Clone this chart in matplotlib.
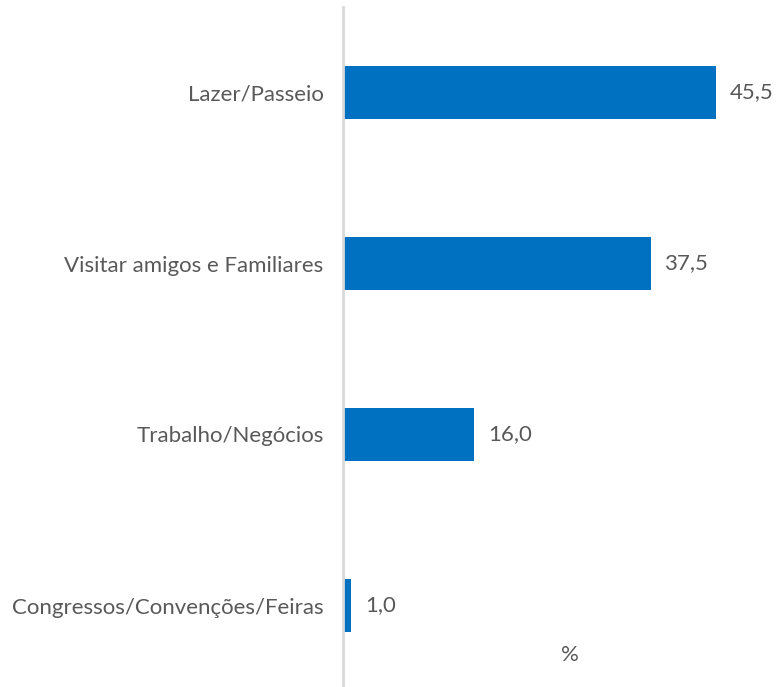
import matplotlib.pyplot as plt

categories = ['Lazer/Passeio', 'Visitar amigos e Familiares', 'Trabalho/Negócios',
              'Congressos/Convenções/Feiras']
values = [45.5, 37.5, 16.0, 1.0]
value_labels = ['45,5', '37,5', '16,0', '1,0']

plt.rcParams['font.family'] = ['Lato', 'DejaVu Sans']
text_color = '#595959'
fs = 16

fig = plt.figure(figsize=(7.79, 6.87), dpi=100)
ax = fig.add_axes([343 / 779, -4 / 687, 436 / 779, 684 / 687])

pos = range(len(categories))
ax.barh(pos, values, height=0.31, color='#0070C0')
ax.set_ylim(3.5, -0.5)
ax.set_xlim(0, 436 / 8.2)

for y, v, lab in zip(pos, values, value_labels):
    ax.annotate(lab, (v, y), xytext=(10, 0), textcoords='offset points',
                va='center', ha='left', fontsize=fs, color=text_color)

ax.set_yticks(list(pos))
ax.set_yticklabels(categories, fontsize=fs, color=text_color)
ax.tick_params(axis='y', length=0, pad=14)
ax.set_xticks([])

for s in ['top', 'right', 'bottom']:
    ax.spines[s].set_visible(False)
ax.spines['left'].set_color('#D9D9D9')
ax.spines['left'].set_linewidth(2)

fig.text(570 / 779, 1 - 655 / 687, '%', ha='center', va='center', fontsize=fs, color=text_color)

fig.savefig('out.png', dpi=100)
